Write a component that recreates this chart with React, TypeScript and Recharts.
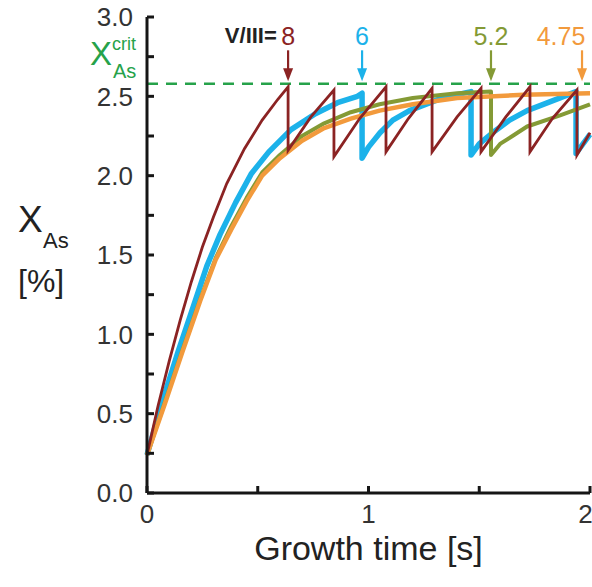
import React from 'react';
import { LineChart, Line, XAxis, YAxis, ReferenceLine } from 'recharts';

const FONT = '"Liberation Sans", Arial, Helvetica, sans-serif';
const CHART_W = 592;
const CHART_H = 587;
const MARGIN = { top: 17, right: 2, bottom: 0, left: 0 };

// ---- series data (growth time [s], X_As [%]) ----
const redT = [0, 0.05, 0.1, 0.15, 0.2, 0.25, 0.3, 0.36, 0.44, 0.52, 0.59, 0.637, 0.637, 0.74, 0.844, 0.844, 0.96, 1.079, 1.079, 1.18, 1.287, 1.287, 1.4, 1.508, 1.508, 1.62, 1.729, 1.729, 1.83, 1.941, 1.941, 2.0];
const redV = [0.24, 0.55, 0.83, 1.09, 1.33, 1.55, 1.74, 1.95, 2.17, 2.35, 2.48, 2.56, 2.16, 2.37, 2.54, 2.12, 2.36, 2.56, 2.15, 2.36, 2.55, 2.15, 2.37, 2.55, 2.15, 2.37, 2.56, 2.15, 2.36, 2.54, 2.13, 2.27];

const blueT = [0, 0.07, 0.14, 0.21, 0.27, 0.33, 0.4, 0.47, 0.55, 0.65, 0.76, 0.86, 0.95, 0.971, 0.971, 1.0, 1.052, 1.11, 1.185, 1.334, 1.463, 1.463, 1.5, 1.56, 1.637, 1.716, 1.865, 1.937, 1.937, 2.0];
const blueV = [0.24, 0.58, 0.89, 1.18, 1.43, 1.63, 1.83, 2.01, 2.15, 2.29, 2.39, 2.46, 2.5, 2.52, 2.11, 2.18, 2.27, 2.35, 2.41, 2.49, 2.53, 2.13, 2.2, 2.27, 2.35, 2.41, 2.49, 2.53, 2.14, 2.26];

const greenT = [0, 0.08, 0.16, 0.24, 0.31, 0.38, 0.45, 0.52, 0.6, 0.7, 0.8, 0.92, 1.05, 1.2, 1.4, 1.553, 1.553, 1.594, 1.65, 1.716, 1.865, 2.0];
const greenV = [0.24, 0.57, 0.9, 1.22, 1.48, 1.68, 1.86, 2.02, 2.13, 2.25, 2.33, 2.4, 2.45, 2.49, 2.52, 2.53, 2.13, 2.2, 2.25, 2.31, 2.38, 2.45];

const orangeT = [0, 0.08, 0.16, 0.24, 0.31, 0.38, 0.45, 0.52, 0.6, 0.7, 0.8, 0.92, 1.05, 1.2, 1.4, 1.7, 2.0];
const orangeV = [0.24, 0.56, 0.89, 1.21, 1.47, 1.66, 1.84, 2.0, 2.11, 2.22, 2.3, 2.36, 2.41, 2.45, 2.49, 2.51, 2.52];

// ---- annotations ----
const ratioLabels = ['8', '6', '5.2', '4.75'];
const arrowTimes = [0.637, 0.971, 1.553, 1.964];
const seriesColors = ['#8b2323', '#1cb2ea', '#849a35', '#f29a3c'];
const X_CRIT = 2.58;
const ARROW_TOP = 2.79;
const ARROW_TIP = 2.595;

// ---- axes ----
const X_TICKS = [0, 0.5, 1, 1.5, 2];
const Y_TICKS = [0, 0.25, 0.5, 0.75, 1, 1.25, 1.5, 1.75, 2, 2.25, 2.5, 2.75, 3];

const zip = (ts: number[], vs: number[]) => ts.map((t, i) => ({ t, v: vs[i] }));
const redData = zip(redT, redV);
const blueData = zip(blueT, blueV);
const greenData = zip(greenT, greenV);
const orangeData = zip(orangeT, orangeV);

const AXIS_COLOR = '#161616';
const TICK_COLOR = '#333';
const CRIT_COLOR = '#26a24a';
const PLOT_RIGHT = CHART_W - MARGIN.right;

const makeArrow = (label: string, color: string, prefix?: string) => (props: any) => {
  const { x1, y1, x2, y2 } = props;
  const fs = 25;
  const w = label.length * fs * 0.5;
  let cx = x1;
  if (cx + w / 2 > PLOT_RIGHT - 4) cx = PLOT_RIGHT - 4 - w / 2;
  return (
    <g>
      <line x1={x1} y1={y1} x2={x2} y2={y2 - 10} stroke={color} strokeWidth={2.2} />
      <polygon points={`${x2 - 5},${y2 - 13} ${x2 + 5},${y2 - 13} ${x2},${y2}`} fill={color} />
      <text x={cx} y={y1 - 5} textAnchor="middle" fill={color} fontSize={fs} fontFamily={FONT}>
        {label}
      </text>
      {prefix ? (
        <text x={cx - w / 2 - 5} y={y1 - 7} textAnchor="end" fill="#222" fontSize={22} fontWeight="bold" fontFamily={FONT}>
          {prefix}
        </text>
      ) : null}
    </g>
  );
};

const critShape = (props: any) => {
  const { x1, y1, x2, y2 } = props;
  return (
    <g>
      <line x1={x1} y1={y1} x2={x2} y2={y2} stroke={CRIT_COLOR} strokeWidth={2.5} strokeDasharray="11 8" />
      <text fill={CRIT_COLOR} fontFamily={FONT}>
        <tspan x={x1 - 57} y={y1 - 19} fontSize={33}>X</tspan>
        <tspan x={x1 - 35} y={y1 - 34} fontSize={18}>crit</tspan>
        <tspan x={x1 - 34} y={y1 - 6} fontSize={20}>As</tspan>
      </text>
    </g>
  );
};

const YTitle = (props: any) => {
  const vb = props.viewBox || { x: 0, y: 17, width: 147, height: 476 };
  const cy = vb.y + vb.height / 2;
  const x0 = vb.x + 18;
  return (
    <text fill="#222" fontFamily={FONT}>
      <tspan x={x0} y={cy - 23} fontSize={37}>X</tspan>
      <tspan x={x0 + 25} y={cy - 7} fontSize={22}>As</tspan>
      <tspan x={x0} y={cy + 37} fontSize={32}>[%]</tspan>
    </text>
  );
};

const XTitle = (props: any) => {
  const vb = props.viewBox || { x: 147, y: 493, width: 443, height: 94 };
  return (
    <text x={vb.x + vb.width / 2} y={vb.y + 67} textAnchor="middle" fill="#222" fontSize={34} fontFamily={FONT}>
      Growth time [s]
    </text>
  );
};

export default function App() {
  const tickStyle = { fontSize: 26, fill: TICK_COLOR, fontFamily: FONT };
  return (
    <div style={{ position: 'fixed', left: 0, top: 0, background: '#fff' }}>
      <LineChart width={CHART_W} height={CHART_H} margin={MARGIN}>
        <XAxis
          xAxisId="b"
          dataKey="t"
          type="number"
          domain={[0, 2]}
          ticks={X_TICKS}
          tickFormatter={(v: number) => (Number.isInteger(v) ? String(v) : '')}
          height={94}
          tickSize={-7}
          tickMargin={19}
          tick={tickStyle}
          axisLine={{ stroke: AXIS_COLOR, strokeWidth: 3 }}
          tickLine={{ stroke: AXIS_COLOR, strokeWidth: 3 }}
          label={{ content: XTitle } as any}
        />
        <XAxis
          xAxisId="t"
          orientation="top"
          dataKey="t"
          type="number"
          domain={[0, 2]}
          ticks={X_TICKS}
          tickFormatter={() => ''}
          height={0}
          tickSize={-7}
          axisLine={{ stroke: AXIS_COLOR, strokeWidth: 3 }}
          tickLine={{ stroke: AXIS_COLOR, strokeWidth: 3 }}
        />
        <YAxis
          yAxisId="l"
          type="number"
          domain={[0, 3]}
          ticks={Y_TICKS}
          tickFormatter={(v: number) => (Math.abs(v * 2 - Math.round(v * 2)) < 1e-6 ? v.toFixed(1) : '')}
          width={147}
          tickSize={-7}
          tickMargin={21}
          tick={tickStyle}
          axisLine={{ stroke: AXIS_COLOR, strokeWidth: 3 }}
          tickLine={{ stroke: AXIS_COLOR, strokeWidth: 3 }}
          label={{ content: YTitle } as any}
        />
        <YAxis
          yAxisId="r"
          orientation="right"
          type="number"
          domain={[0, 3]}
          ticks={Y_TICKS}
          tickFormatter={() => ''}
          width={0}
          tickSize={-7}
          axisLine={{ stroke: AXIS_COLOR, strokeWidth: 3 }}
          tickLine={{ stroke: AXIS_COLOR, strokeWidth: 3 }}
        />
        <ReferenceLine xAxisId="b" yAxisId="l" y={X_CRIT} shape={critShape} ifOverflow="visible" />
        <Line xAxisId="b" yAxisId="l" data={blueData} dataKey="v" type="linear" stroke={seriesColors[1]} strokeWidth={5.5} strokeLinejoin="round" dot={false} isAnimationActive={false} />
        <Line xAxisId="b" yAxisId="l" data={greenData} dataKey="v" type="linear" stroke={seriesColors[2]} strokeWidth={4} strokeLinejoin="round" dot={false} isAnimationActive={false} />
        <Line xAxisId="b" yAxisId="l" data={orangeData} dataKey="v" type="linear" stroke={seriesColors[3]} strokeWidth={4.5} strokeLinejoin="round" dot={false} isAnimationActive={false} />
        <Line xAxisId="b" yAxisId="l" data={redData} dataKey="v" type="linear" stroke={seriesColors[0]} strokeWidth={2.8} dot={false} isAnimationActive={false} />
        {ratioLabels.map((lab, i) => (
          <ReferenceLine
            key={lab}
            xAxisId="b"
            yAxisId="l"
            segment={[{ x: arrowTimes[i], y: ARROW_TOP }, { x: arrowTimes[i], y: ARROW_TIP }]}
            shape={makeArrow(lab, seriesColors[i], i === 0 ? 'V/III=' : undefined)}
            ifOverflow="visible"
          />
        ))}
      </LineChart>
    </div>
  );
}
